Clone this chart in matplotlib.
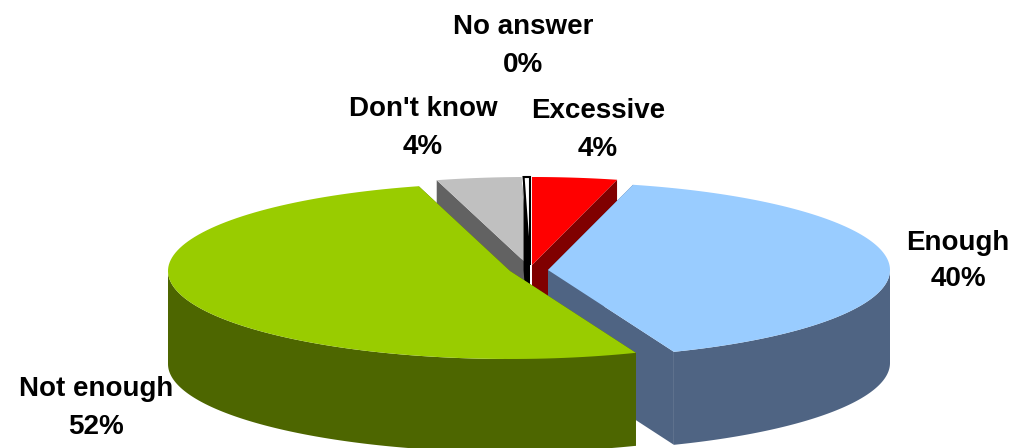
import numpy as np
from matplotlib import pyplot as plt

# slices clockwise from 12 o'clock
labels = ['Excessive', 'Enough', 'Not enough', "Don't know", 'No answer']
values = [4, 40, 51.7, 4, 0.3]

top_colors = ['#FF0000', '#99CCFF', '#99CC00', '#C0C0C0', '#FFFFFF']
side_colors = ['#800000', '#4F6483', '#4D6600', '#626262', '#000000']

# exploded apex of each slice, in pixels
centers = [(532, 265), (548, 270), (510, 271), (528, 265), (530, 265)]
label_pos = [(598, 130), (958, 261), (96, 408), (423, 128), (523, 46)]

rx = 342
ry = 88
depth = 93

# back to front
draw_order = [3, 4, 0, 1, 2]

edges = np.radians(np.cumsum([0] + values) * 3.6)


def rim(i, a, b):
    t = np.linspace(a, b, 120)
    return centers[i][0] + rx * np.sin(t), centers[i][1] - ry * np.cos(t)


fig = plt.figure(figsize=(10.14, 4.48), dpi=100)
ax = fig.add_axes([0, 0, 1, 1])
ax.set_xlim(0, 1014)
ax.set_ylim(448, 0)
ax.axis('off')

for i in draw_order:
    a, b = edges[i], edges[i + 1]
    cx, cy = centers[i]
    xs, ys = rim(i, a, b)

    # cut faces
    for x0, y0 in [(xs[0], ys[0]), (xs[-1], ys[-1])]:
        ax.fill([cx, x0, x0, cx], [cy, y0, y0 + depth, cy + depth],
                color=side_colors[i], lw=0)

    # outer wall, only the front half of the ellipse shows
    lo, hi = max(a, np.pi / 2), min(b, 3 * np.pi / 2)
    if hi > lo:
        wx, wy = rim(i, lo, hi)
        ax.fill(np.r_[wx, wx[::-1]], np.r_[wy, wy[::-1] + depth],
                color=side_colors[i], lw=0)

    # top face
    if labels[i] == 'No answer':
        ax.fill(np.r_[cx, xs], np.r_[cy, ys], facecolor=top_colors[i],
                edgecolor='black', lw=1.5)
    else:
        ax.fill(np.r_[cx, xs], np.r_[cy, ys], color=top_colors[i], lw=0)

for name, v, (x, y) in zip(labels, values, label_pos):
    ax.text(x, y, '%s\n%d%%' % (name, round(v)), ha='center', va='center',
            family='Liberation Sans', weight='bold', fontsize=20,
            linespacing=1.55, color='black')

fig.savefig('out.png', dpi=100)
